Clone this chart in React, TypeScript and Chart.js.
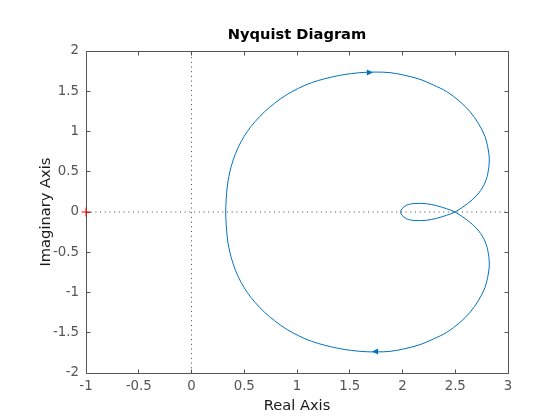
import React, { useEffect, useRef } from "react";
import { Chart, registerables } from "chart.js";

Chart.register(...registerables);

// Nyquist curve (real / imaginary parts)
const nyqRe = [
  0.324, 0.327, 0.333, 0.341, 0.354, 0.376, 0.418, 0.47, 0.528, 0.602,
  0.693, 0.787, 0.897, 1.013, 1.139, 1.265, 1.392, 1.518, 1.645, 1.76,
  1.882, 2.008, 2.166, 2.292, 2.419, 2.545, 2.64, 2.719, 2.782, 2.813,
  2.823, 2.809, 2.772, 2.707, 2.62, 2.498,
  2.419, 2.324, 2.229, 2.118, 2.04, 1.995, 1.983,
  1.995, 2.04, 2.118, 2.229, 2.324, 2.419, 2.498,
  2.62, 2.707, 2.772, 2.809, 2.823,
  2.813, 2.782, 2.719, 2.64, 2.545, 2.419, 2.292, 2.166, 2.008, 1.882,
  1.76, 1.645, 1.518, 1.392, 1.265, 1.139, 1.013, 0.897, 0.787, 0.693,
  0.602, 0.528, 0.47, 0.418, 0.376, 0.354, 0.341, 0.333, 0.327, 0.324,
];
const nyqIm = [
  0, 0.108, 0.232, 0.335, 0.439, 0.563, 0.729, 0.874, 0.998, 1.122,
  1.246, 1.35, 1.453, 1.536, 1.607, 1.656, 1.694, 1.72, 1.735, 1.738,
  1.731, 1.702, 1.648, 1.578, 1.495, 1.371, 1.246, 1.102, 0.936, 0.77,
  0.646, 0.481, 0.335, 0.211, 0.108, 0,
  -0.04, -0.078, -0.102, -0.106, -0.085, -0.04, 0,
  0.04, 0.085, 0.106, 0.102, 0.078, 0.04, 0,
  -0.108, -0.211, -0.335, -0.481, -0.646,
  -0.77, -0.936, -1.102, -1.246, -1.371, -1.495, -1.578, -1.648, -1.702, -1.731,
  -1.738, -1.735, -1.72, -1.694, -1.656, -1.607, -1.536, -1.453, -1.35, -1.246,
  -1.122, -0.998, -0.874, -0.729, -0.563, -0.439, -0.335, -0.232, -0.108, 0,
];

// Direction arrows on the curve (position and direction along real axis)
const arrowRe = [1.69, 1.74];
const arrowIm = [1.737, -1.737];
const arrowDir = [1, -1];

// Critical point
const criticalRe = [-1];
const criticalIm = [0];

// Axes
const xTicks = [-1, -0.5, 0, 0.5, 1, 1.5, 2, 2.5, 3];
const yTicks = [-2, -1.5, -1, -0.5, 0, 0.5, 1, 1.5, 2];
const xRange = [-1, 3];
const yRange = [-2, 2];

const titleText = "Nyquist Diagram";
const xLabel = "Real Axis";
const yLabel = "Imaginary Axis";

const FONT = "'DejaVu Sans', sans-serif";
const AXIS_COLOR = "#555555";
const LINE_COLOR = "#0072BD";

const framePlugin = {
  id: "frame",
  beforeDatasetsDraw(chart: any) {
    const { ctx, chartArea: a, scales } = chart;
    const xs = scales.x;
    const ys = scales.y;
    ctx.save();
    ctx.strokeStyle = AXIS_COLOR;
    ctx.lineWidth = 1;
    const L = Math.floor(a.left) + 0.5;
    const R = Math.floor(a.right) + 0.5;
    const T = Math.floor(a.top) + 0.5;
    const B = Math.floor(a.bottom) + 0.5;
    ctx.beginPath();
    ctx.moveTo(L, T);
    ctx.lineTo(R, T);
    ctx.lineTo(R, B);
    ctx.lineTo(L, B);
    ctx.closePath();
    const tl = 4;
    xTicks.forEach((v) => {
      const p = Math.floor(xs.getPixelForValue(v)) + 0.5;
      ctx.moveTo(p, B);
      ctx.lineTo(p, B - tl);
      ctx.moveTo(p, T);
      ctx.lineTo(p, T + tl);
    });
    yTicks.forEach((v) => {
      const p = Math.floor(ys.getPixelForValue(v)) + 0.5;
      ctx.moveTo(L, p);
      ctx.lineTo(L + tl, p);
      ctx.moveTo(R, p);
      ctx.lineTo(R - tl, p);
    });
    ctx.stroke();
    ctx.restore();
  },
  afterDraw(chart: any) {
    const { ctx, chartArea: a, scales } = chart;
    const xs = scales.x;
    const ys = scales.y;
    ctx.save();
    // arrows
    ctx.fillStyle = LINE_COLOR;
    arrowRe.forEach((re, i) => {
      const px = xs.getPixelForValue(re);
      const py = Math.floor(ys.getPixelForValue(arrowIm[i])) + 0.5;
      const d = arrowDir[i];
      ctx.beginPath();
      ctx.moveTo(px + d * 3, py);
      ctx.lineTo(px - d * 3, py - 3);
      ctx.lineTo(px - d * 3, py + 3);
      ctx.closePath();
      ctx.fill();
    });
    // titles
    const cx = (a.left + a.right) / 2;
    const cy = (a.top + a.bottom) / 2;
    ctx.fillStyle = "#000000";
    ctx.textAlign = "center";
    ctx.textBaseline = "alphabetic";
    ctx.font = `bold 14.67px ${FONT}`;
    ctx.fillText(titleText, cx, 38.5);
    ctx.fillStyle = "#1a1a1a";
    ctx.font = `14.67px ${FONT}`;
    ctx.fillText(xLabel, cx, 410);
    ctx.translate(49.5, cy);
    ctx.rotate(-Math.PI / 2);
    ctx.fillText(yLabel, 0, 0);
    ctx.restore();
  },
};

export default function App() {
  const ref = useRef<HTMLCanvasElement | null>(null);
  useEffect(() => {
    if (!ref.current) return;
    const curve = nyqRe.map((x, i) => ({ x, y: nyqIm[i] }));
    const chart = new Chart(ref.current, {
      type: "scatter",
      data: {
        datasets: [
          {
            data: [
              { x: xRange[0], y: 0 },
              { x: xRange[1], y: 0 },
            ],
            showLine: true,
            borderColor: "#444444",
            borderWidth: 1,
            borderDash: [1, 3.7],
            pointRadius: 0,
          },
          {
            data: [
              { x: 0, y: yRange[0] },
              { x: 0, y: yRange[1] },
            ],
            showLine: true,
            borderColor: "#444444",
            borderWidth: 1,
            borderDash: [1, 3.7],
            pointRadius: 0,
          },
          {
            data: curve,
            showLine: true,
            borderColor: LINE_COLOR,
            borderWidth: 1,
            pointRadius: 0,
            tension: 0.35,
          },
          {
            data: criticalRe.map((x, i) => ({ x, y: criticalIm[i] })),
            showLine: false,
            pointStyle: "cross",
            pointRadius: 4.5,
            borderColor: "#ff0000",
            backgroundColor: "#ff0000",
            borderWidth: 1,
            clip: false,
          } as any,
        ],
      },
      options: {
        responsive: false,
        animation: false,
        events: [],
        layout: { padding: { top: 51, right: 52, left: 0, bottom: 0 } },
        plugins: {
          legend: { display: false },
          tooltip: { enabled: false },
          title: { display: false },
        },
        scales: {
          x: {
            type: "linear",
            min: xRange[0],
            max: xRange[1],
            afterBuildTicks: (s: any) => {
              s.ticks = xTicks.map((v) => ({ value: v }));
            },
            afterFit: (s: any) => {
              s.height = 47;
            },
            grid: { display: false, drawTicks: false },
            border: { display: false },
            ticks: {
              padding: 6,
              color: AXIS_COLOR,
              font: { family: FONT, size: 13.33 },
              maxRotation: 0,
              autoSkip: false,
              callback: (v: any) => String(v),
            },
          },
          y: {
            type: "linear",
            min: yRange[0],
            max: yRange[1],
            afterBuildTicks: (s: any) => {
              s.ticks = yTicks.map((v) => ({ value: v }));
            },
            afterFit: (s: any) => {
              s.width = 86;
            },
            grid: { display: false, drawTicks: false },
            border: { display: false },
            ticks: {
              padding: 7,
              color: AXIS_COLOR,
              font: { family: FONT, size: 13.33 },
              autoSkip: false,
              callback: (v: any) => String(v),
            },
          },
        },
      },
      plugins: [framePlugin],
    });
    return () => chart.destroy();
  }, []);
  return (
    <div
      style={{
        position: "fixed",
        left: 0,
        top: 0,
        width: 560,
        height: 420,
        background: "#ffffff",
      }}
    >
      <canvas ref={ref} width={560} height={420} />
    </div>
  );
}
